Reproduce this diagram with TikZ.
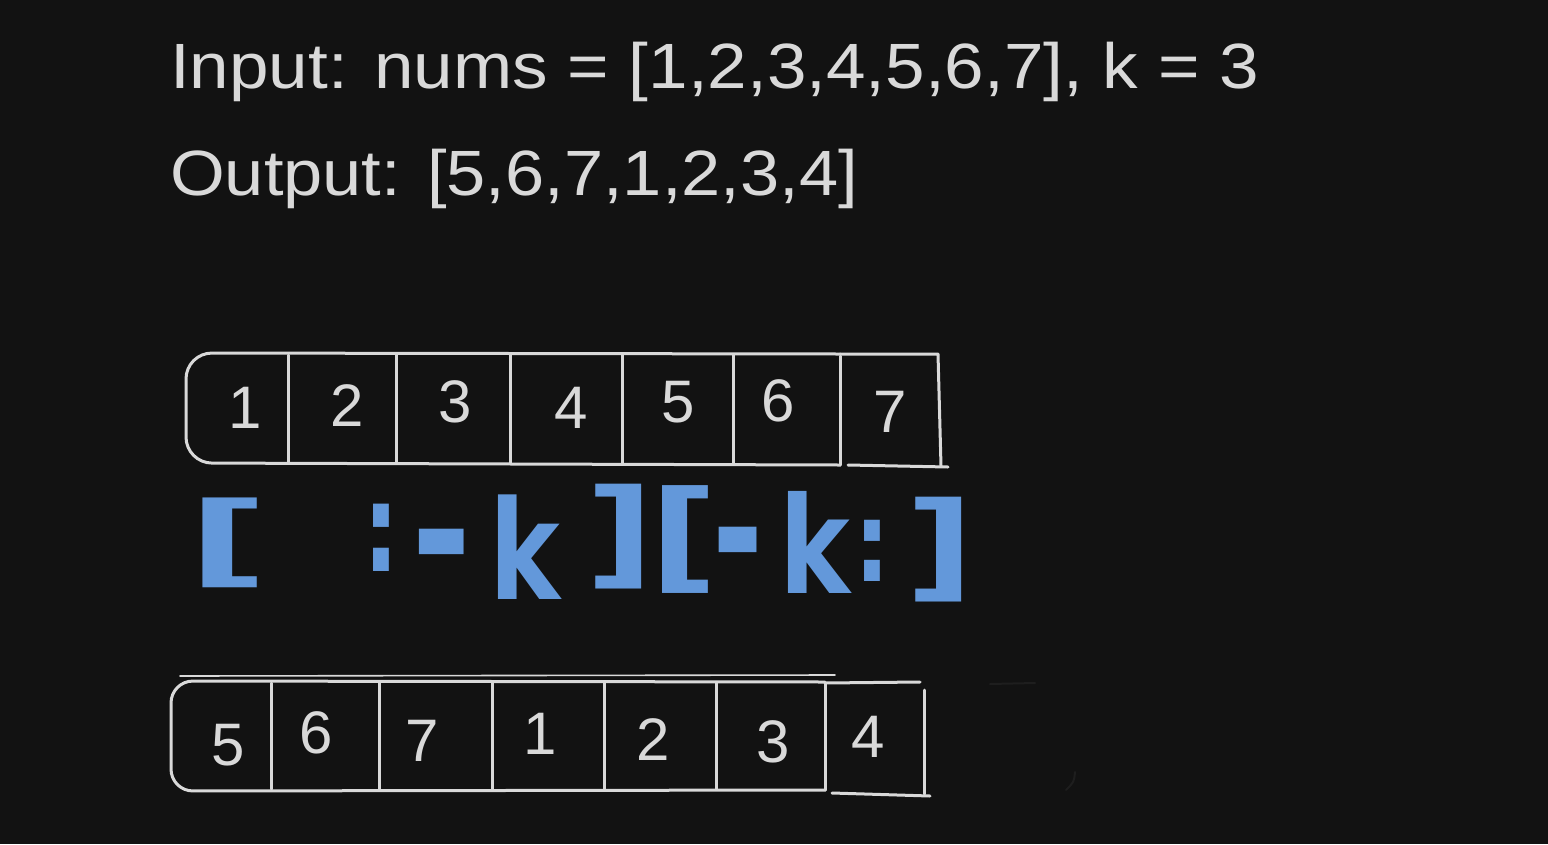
\documentclass[tikz,border=0pt]{standalone}
\usepackage{fontspec}
\setmainfont{Liberation Sans}
\newfontfamily\bluefont{DejaVu Sans}
\definecolor{bgc}{HTML}{121212}
\definecolor{inkc}{HTML}{D9D9D9}
\definecolor{bluec}{HTML}{6398DA}
\definecolor{faintc}{HTML}{1E1E1E}
\begin{document}
\begin{tikzpicture}[x=1pt,y=-1pt,
  frame/.style={draw=inkc,line width=3pt,line cap=round,line join=round},
  thinframe/.style={draw=inkc,line width=1.6pt,line cap=round},
  faint/.style={draw=faintc,line width=2pt,line cap=round},
  headtxt/.style={text=inkc,inner sep=0pt,anchor=base west,font=\fontsize{64}{70}\selectfont},
  num/.style={text=inkc,inner sep=0pt,font=\fontsize{60}{60}\selectfont},
  blu/.style={text=bluec,inner sep=0pt,font=\bluefont\bfseries\fontsize{112}{112}\selectfont}]
\useasboundingbox (0,0) rectangle (1548,844);
\fill[bgc] (0,0) rectangle (1548,844);

% header text
\node[headtxt] (inp) at (170,88) {\scalebox{1.11}[1]{Input: nums = [1,2,3,4,5,6,7], k = 3}};
\node[headtxt] (outp) at (170,195) {\scalebox{1.1}[1]{Output: [5,6,7,1,2,3,4]}};

% top array frame
\draw[frame] (840,354) [rounded corners=26pt] -- (186,353) -- (186,463) [sharp corners] -- (840,465);
\foreach \x in {288,396,510,622,733} \draw[frame] (\x,355) -- (\x,463);
\draw[frame] (840,356) -- (840,465);
\draw[frame] (840,354) -- (938,354) -- (941,466);
\draw[frame] (848,465) -- (948,467);

% top array numbers
\node[num] (t1) at (245,408) {1};
\node[num] (t2) at (347,406) {2};
\node[num] (t3) at (455,402) {3};
\node[num] (t4) at (571,408) {4};
\node[num] (t5) at (678,402) {5};
\node[num] (t6) at (778,401) {6};
\node[num] (t7) at (890,412) {7};

% blue slicing expression
\node[blu] (b1) at (228,543) {\scalebox{1.6}[0.9]{[}};
\node[blu] (b2) at (381,538) {\scalebox{0.8}[1.1]{:}};
\node[blu] (b3) at (442,561) {\scalebox{1.3}[1.6]{-}};
\node[blu] (b4) at (525,547) {\scalebox{0.95}[1.23]{k}};
\node[blu] (b5) at (620,537) {\scalebox{1.35}[1.05]{]}};
\node[blu] (b6) at (684,540) {\scalebox{1.35}[1.08]{[}};
\node[blu] (b7) at (738,559) {\scalebox{1.1}[1.6]{-}};
\node[blu] (b8) at (815,542) {\scalebox{0.95}[1.2]{k}};
\node[blu] (b9) at (872,551) {\scalebox{0.8}[1.0]{:}};
\node[blu] (b10) at (940,550) {\scalebox{1.35}[1.05]{]}};

% bottom array frame
\draw[thinframe] (180,676) -- (835,675);
\draw[frame] (825,682) [rounded corners=22pt] -- (171,681) -- (171,791) [sharp corners] -- (825,790);
\foreach \x in {271,379,492,604,716} \draw[frame] (\x,683) -- (\x,789);
\draw[frame] (825,683) -- (825,790);
\draw[frame] (825,683) -- (920,682);
\draw[frame] (924,690) -- (924,794);
\draw[frame] (832,793) -- (930,796);

% bottom array numbers
\node[num] (u1) at (228,745) {5};
\node[num] (u2) at (316,733) {6};
\node[num] (u3) at (422,741) {7};
\node[num] (u4) at (540,734) {1};
\node[num] (u5) at (653,740) {2};
\node[num] (u6) at (773,742) {3};
\node[num] (u7) at (868,737) {4};

% faint leftover stroke
\draw[faint] (990,684) -- (1035,683);
\draw[faint] (1075,772) .. controls (1074,782) .. (1066,790);
\end{tikzpicture}
\end{document}
